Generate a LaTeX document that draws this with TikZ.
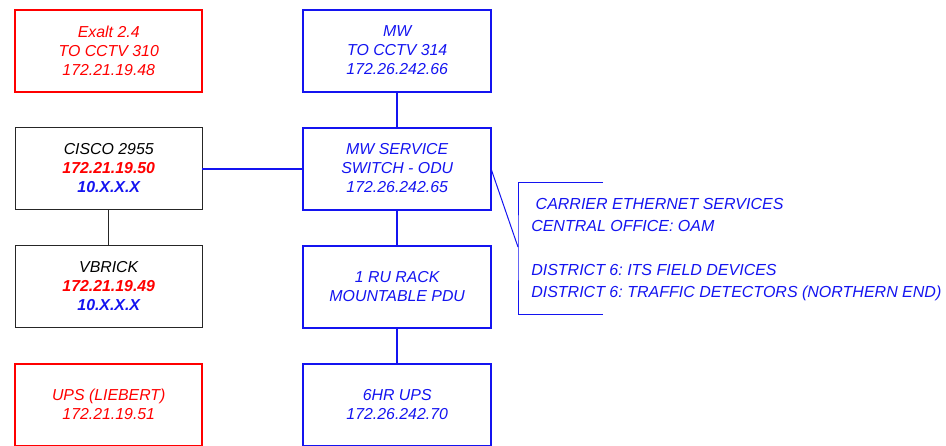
\documentclass[tikz,border=0pt]{standalone}
\usepackage{fontspec}
\setmainfont{Liberation Sans}
\usetikzlibrary{positioning}
\definecolor{netred}{RGB}{255,0,0}
\definecolor{netblue}{RGB}{20,20,240}
\frenchspacing

\begin{document}
\begin{tikzpicture}[
  x=0.75pt, y=-0.75pt,
  node distance=27pt and 75.75pt,
  box/.style={rectangle, minimum width=140.6pt, minimum height=61.5pt, outer sep=0pt, inner sep=1pt, align=center, font=\itshape\fontsize{11.9}{14.25}\selectfont},
  redbox/.style={box, draw=netred, line width=1.5pt, text=netred},
  bluebox/.style={box, draw=netblue, line width=1.5pt, text=netblue},
  greybox/.style={box, draw=black!85, line width=0.75pt, text=black},
  link/.style={draw=netblue, line width=1.5pt},
  thinlink/.style={draw=black!85, line width=0.75pt},
  bracket/.style={draw=netblue, line width=0.75pt}
  ]
  \useasboundingbox (0,0) rectangle (946,446);
  % left column
  \node (exalt) [redbox] at (108.75,50.5) {Exalt 2.4\\TO CCTV 310\\172.21.19.48};
  \node (cisco) [greybox, below=of exalt] {CISCO 2955\\\textcolor{netred}{\bfseries 172.21.19.50}\\\textcolor{netblue}{\bfseries 10.X.X.X}};
  \node (vbrick) [greybox, below=of cisco] {VBRICK\\\textcolor{netred}{\bfseries 172.21.19.49}\\\textcolor{netblue}{\bfseries 10.X.X.X}};
  \node (ups) [redbox, below=of vbrick] {UPS (LIEBERT)\\172.21.19.51};
  % center column
  \node (mw) [bluebox, right=of exalt] {MW\\TO CCTV 314\\172.26.242.66};
  \node (odu) [bluebox, right=of cisco] {MW SERVICE\\SWITCH - ODU\\172.26.242.65};
  \node (pdu) [bluebox, right=of vbrick] {1 RU RACK\\MOUNTABLE PDU};
  \node (bups) [bluebox, right=of ups] {6HR UPS\\172.26.242.70};
  % services bracket
  \coordinate (brtop) at (603,182);
  \coordinate (brmid) at (518,247);
  \coordinate (brbot) at (603,314);
  \node (services) [anchor=west, align=left, text=netblue, inner sep=0pt, font=\itshape\fontsize{12}{16.5}\selectfont] at (531,249.5)
    {\ CARRIER ETHERNET SERVICES\\CENTRAL OFFICE: OAM\\[16.5pt]DISTRICT 6: ITS FIELD DEVICES\\DISTRICT 6: TRAFFIC DETECTORS (NORTHERN END)};

  \draw [link] (mw) -- (odu);
  \draw [link] (odu) -- (pdu);
  \draw [link] (pdu) -- (bups);
  \draw [link] (cisco) -- (odu);
  \draw [thinlink] (cisco) -- (vbrick);
  \draw [bracket] (odu.east) -- (brmid);
  \draw [bracket] (brtop) -| (brmid) |- (brbot);
\end{tikzpicture}
\end{document}
